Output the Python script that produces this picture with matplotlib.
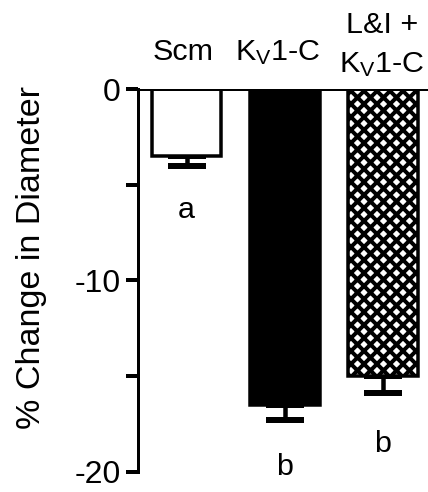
import numpy as np
import matplotlib
matplotlib.use("Agg")
from matplotlib import pyplot as plt

plt.rcParams['font.family'] = ['Liberation Sans', 'DejaVu Sans']
plt.rcParams['mathtext.fontset'] = 'custom'
plt.rcParams['mathtext.rm'] = 'Liberation Sans'
plt.rcParams['mathtext.it'] = 'Liberation Sans'

# --- DATA ---
groups = ['Scm', r'K$_\mathregular{V}$1-C', r'K$_\mathregular{V}$1-C']
means = [-3.5, -16.5, -15.0]
sem = [0.5, 0.8, 0.9]
letters = ['a', 'b', 'b']
letter_y = [-6.75, -20.15, -18.95]

DPI = 78
def pt(px):
    return px * 72.0 / DPI

plt.rcParams['hatch.linewidth'] = pt(4)

x = np.arange(len(means))

fig = plt.figure(figsize=(428 / DPI, 492 / DPI), dpi=DPI)
ax = fig.add_axes([0.3224, 0.0407, 0.6776, 0.7784])

faces = ['white', 'black', 'white']
hatches = [None, None, 'xx']
for i in range(len(means)):
    ax.bar(x[i], means[i], width=0.71, color=faces[i], edgecolor='black',
           linewidth=pt(3.5), hatch=hatches[i], zorder=2)
    eb = ax.errorbar(x[i], means[i], yerr=[[sem[i]], [0]], fmt='none',
                     ecolor='black', elinewidth=pt(4.5), capsize=pt(19),
                     capthick=pt(6), zorder=1)
    for cap in eb[1]:
        cap.set_solid_capstyle('round')

ax.axhline(0, color='black', linewidth=pt(3), zorder=3)

ax.set_xlim(-0.496, 2.46)
ax.set_ylim(-20, 0)
ax.set_yticks([0, -5, -10, -15, -20])
ax.set_yticklabels(['0', '', '-10', '', '-20'], fontsize=pt(32))
ax.tick_params(axis='y', direction='out', length=pt(12), width=pt(4), pad=pt(5))
ax.set_xticks([])
for s in ['top', 'right', 'bottom']:
    ax.spines[s].set_visible(False)
ax.spines['left'].set_linewidth(pt(3))
ax.set_ylabel('% Change in Diameter', fontsize=pt(34))
ax.yaxis.set_label_coords(-0.315, 0.559)

# group labels above the bars
fs = pt(30.5)
ax.text(-0.04, 1.5, groups[0], fontsize=fs, ha='center', va='baseline')
ax.text(0.93, 1.5, groups[1], fontsize=fs, ha='center', va='baseline')
ax.text(1.99, 2.92, 'L&I +', fontsize=fs, ha='center', va='baseline')
ax.text(1.99, 0.9, groups[2], fontsize=fs, ha='center', va='baseline')

for i in range(len(letters)):
    ax.text(x[i], letter_y[i], letters[i], fontsize=fs, ha='center',
            va='baseline', clip_on=False)

plt.savefig('out.png', dpi=DPI)
